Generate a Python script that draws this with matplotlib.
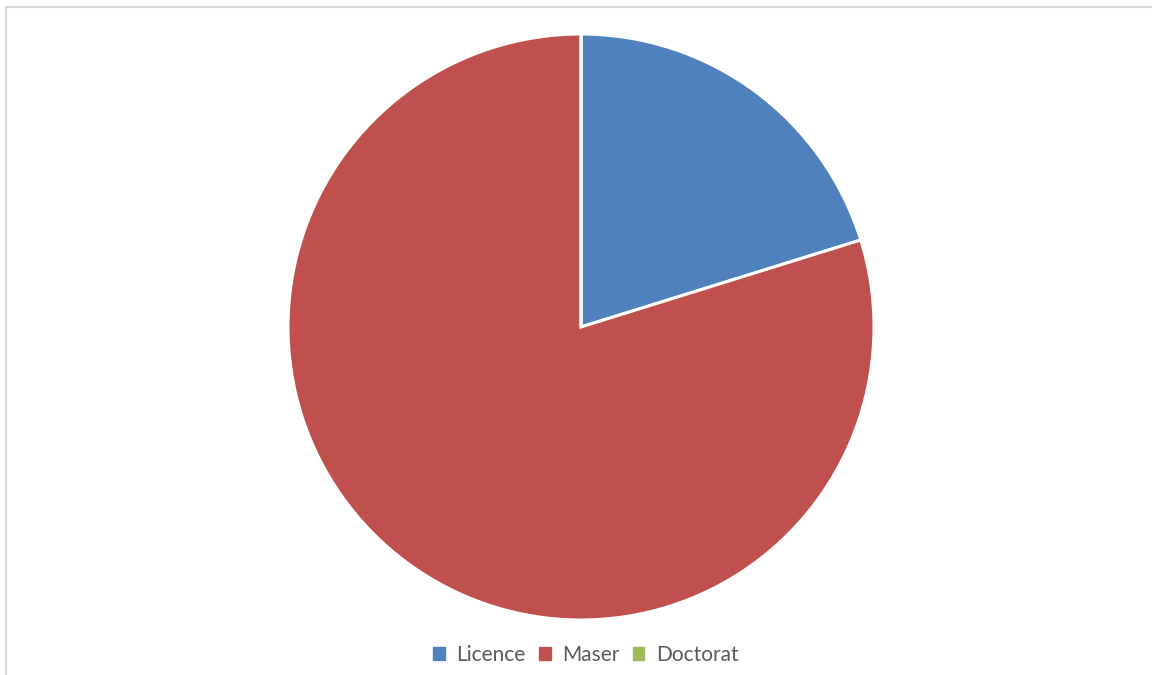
import matplotlib
matplotlib.use("Agg")
import matplotlib.pyplot as plt
from matplotlib.patches import Patch
from matplotlib.lines import Line2D

categories = ["Licence", "Maser", "Doctorat"]
values = [20.2, 79.8, 0.0]
colors = ["#4F81BD", "#C0504D", "#9BBB59"]

W, H = 1152, 675
fig = plt.figure(figsize=(W / 100, H / 100), dpi=100)
fig.patch.set_facecolor("white")

cx, cy, r = 581, 327, 293
ax = fig.add_axes([(cx - r) / W, (H - cy - r) / H, 2 * r / W, 2 * r / H])
ax.pie(values, colors=colors, startangle=90, counterclock=False,
       wedgeprops=dict(edgecolor="white", linewidth=2.2))
ax.set_aspect("equal")
ax.set_xlim(-1, 1)
ax.set_ylim(-1, 1)
ax.axis("off")

# chart frame
fig.add_artist(Line2D([6 / W, 6 / W], [0, 1 - 7 / H], transform=fig.transFigure,
                      color="#d9d9d9", linewidth=1.5))
fig.add_artist(Line2D([6 / W, 1], [1 - 7 / H, 1 - 7 / H], transform=fig.transFigure,
                      color="#d9d9d9", linewidth=1.5))

handles = [Patch(facecolor=c, edgecolor=c) for c in colors]
fig.legend(handles, categories, loc="center", bbox_to_anchor=(586 / W, 1 - 655 / H),
           ncol=3, frameon=False, handlelength=0.55, handleheight=0.55,
           handletextpad=0.55, columnspacing=0.65,
           prop=dict(family="Lato", size=15), labelcolor="#595959")

fig.savefig("out.png", dpi=100)
